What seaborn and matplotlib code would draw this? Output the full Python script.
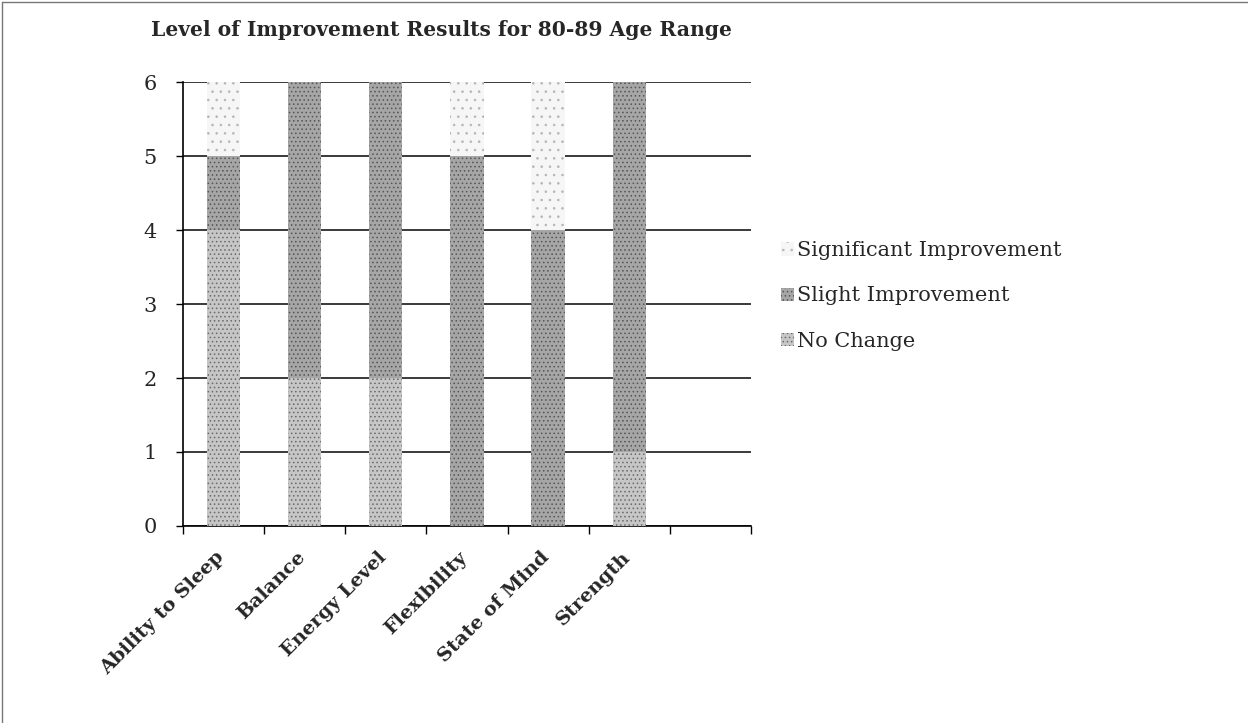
import pandas as pd
import numpy as np
import matplotlib
matplotlib.use("Agg")
import matplotlib.pyplot as plt
import seaborn as sns
from matplotlib.patches import Patch
from matplotlib.lines import Line2D
from matplotlib.transforms import ScaledTranslation

# data
categories = ["Ability to Sleep", "Balance", "Energy Level", "Flexibility",
              "State of Mind", "Strength"]
no_change = [4, 2, 2, 0, 0, 1]
slight = [1, 4, 4, 5, 4, 5]
significant = [1, 0, 0, 1, 2, 0]
series_names = ["Significant Improvement", "Slight Improvement", "No Change"]
y_ticks = [0, 1, 2, 3, 4, 5, 6]

df = pd.DataFrame({"category": categories,
                   "No Change": no_change,
                   "Slight Improvement": slight,
                   "Significant Improvement": significant})
df["c1"] = df["No Change"]
df["c2"] = df["c1"] + df["Slight Improvement"]
df["c3"] = df["c2"] + df["Significant Improvement"]

sns.set_style("white")
plt.rcParams["font.family"] = ["DejaVu Serif"]
plt.rcParams["hatch.linewidth"] = 0.6

fig = plt.figure(figsize=(12.48, 7.23), dpi=100)
ax = fig.add_axes([0.1466, 0.2725, 0.4551, 0.614])

styles = {
    "Significant Improvement": dict(color="#f6f6f6", edgecolor="#b5b5b5", hatch=".."),
    "Slight Improvement": dict(color="#a6a6a6", edgecolor="#555555", hatch="...."),
    "No Change": dict(color="#c6c6c6", edgecolor="#6a6a6a", hatch="...."),
}

# stacked bars: draw cumulative totals, tallest first
for col, name in [("c3", "Significant Improvement"),
                  ("c2", "Slight Improvement"),
                  ("c1", "No Change")]:
    st = styles[name]
    sns.barplot(data=df, x="category", y=col, order=categories, ax=ax,
                width=0.41, color=st["color"], errorbar=None,
                saturation=1, linewidth=0, edgecolor=st["edgecolor"],
                hatch=st["hatch"], zorder=3)

ax.set_xlim(-0.5, 6.5)
ax.set_ylim(0, 6)
ax.set_yticks(y_ticks)
ax.set_yticklabels([str(v) for v in y_ticks], fontsize=15)
ax.yaxis.grid(True, color="#3a3a3a", linewidth=1.4, zorder=0)
ax.set_axisbelow(True)

# boundaries as tick marks, labels at slot centres
ax.set_xticks(np.arange(-0.5, 7.0, 1.0))
ax.set_xticklabels([])
ax.set_xticks(np.arange(len(categories)), minor=True)
ax.set_xticklabels(categories, minor=True, rotation=45, ha="right",
                   rotation_mode="anchor", fontsize=14, fontweight="bold")
ax.tick_params(axis="x", which="major", direction="out", length=6,
               width=1, color="black", bottom=True)
ax.tick_params(axis="x", which="minor", length=0, pad=16)
ax.tick_params(axis="y", direction="out", length=5, width=1,
               color="black", left=True, pad=14)
shift = ScaledTranslation(-6 / 72, 0, fig.dpi_scale_trans)
for lbl in ax.get_xticklabels(minor=True):
    lbl.set_transform(lbl.get_transform() + shift)

ax.set_xlabel("")
ax.set_ylabel("")
for side in ["top", "right"]:
    ax.spines[side].set_visible(False)
for side in ["left", "bottom"]:
    ax.spines[side].set_color("black")
    ax.spines[side].set_linewidth(1.2)

handles = [Patch(facecolor=styles[n]["color"], edgecolor=styles[n]["edgecolor"],
                 hatch=styles[n]["hatch"], linewidth=0, label=n)
           for n in series_names]
fig.legend(handles=handles, loc="upper left", bbox_to_anchor=(0.611, 0.692),
           frameon=False, fontsize=15, handlelength=0.6, handleheight=0.6,
           handletextpad=0.15, labelspacing=1.25)

fig.text(0.354, 0.958, "Level of Improvement Results for 80-89 Age Range",
         ha="center", va="center", fontsize=14.6, fontweight="bold")

# scanned page border (top and left)
fig.add_artist(Line2D([0.002, 0.002], [0, 0.997], transform=fig.transFigure,
                      color="#777777", linewidth=1))
fig.add_artist(Line2D([0.002, 1], [0.997, 0.997], transform=fig.transFigure,
                      color="#777777", linewidth=1))

fig.savefig("out.png", dpi=100)
